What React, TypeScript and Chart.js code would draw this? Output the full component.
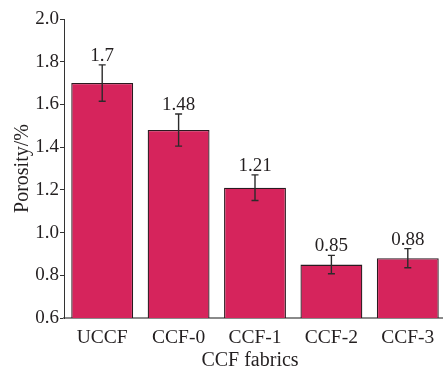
import React, { useEffect, useRef } from "react";
import { Chart, registerables } from "chart.js";

Chart.register(...registerables);

// Porosity of the CCF fabrics (%), with the standard deviation of each sample
const categories = ["UCCF", "CCF-0", "CCF-1", "CCF-2", "CCF-3"];
const porosity = [1.7, 1.48, 1.21, 0.85, 0.88];
const porosityError = [0.085, 0.075, 0.06, 0.043, 0.045];
const valueLabels = ["1.7", "1.48", "1.21", "0.85", "0.88"];
const yTicks = [0.6, 0.8, 1.0, 1.2, 1.4, 1.6, 1.8, 2.0];

const xTitle = "CCF fabrics";
const yTitle = "Porosity/%";

const FONT = '"Liberation Serif", "Times New Roman", serif';
const TEXT = "#231f20";

const errorBarPlugin = {
  id: "errorBars",
  afterDatasetsDraw(chart: any) {
    const { ctx, scales } = chart;
    const meta = chart.getDatasetMeta(0);
    const y = scales.y;
    ctx.save();
    meta.data.forEach((bar: any, i: number) => {
      const v = porosity[i];
      const e = porosityError[i];
      const x = bar.x;
      const yTop = y.getPixelForValue(v + e);
      const yBot = y.getPixelForValue(v - e);
      ctx.strokeStyle = "#2b2b2b";
      ctx.lineWidth = 1.4;
      ctx.beginPath();
      ctx.moveTo(x, yTop);
      ctx.lineTo(x, yBot);
      ctx.moveTo(x - 3.5, yTop);
      ctx.lineTo(x + 3.5, yTop);
      ctx.moveTo(x - 3.5, yBot);
      ctx.lineTo(x + 3.5, yBot);
      ctx.stroke();

      ctx.fillStyle = TEXT;
      ctx.font = `19px ${FONT}`;
      ctx.textAlign = "center";
      ctx.textBaseline = "alphabetic";
      ctx.fillText(valueLabels[i], x, yTop - 4);
    });
    ctx.restore();
  },
};

const axisTitlePlugin = {
  id: "axisTitles",
  afterDraw(chart: any) {
    const { ctx, chartArea } = chart;
    ctx.save();
    ctx.fillStyle = TEXT;
    ctx.font = `20px ${FONT}`;
    ctx.textAlign = "center";
    ctx.textBaseline = "alphabetic";
    ctx.fillText(xTitle, (chartArea.left + chartArea.right) / 2 - 5, chartArea.bottom + 48);

    ctx.translate(28, (chartArea.top + chartArea.bottom) / 2);
    ctx.rotate(-Math.PI / 2);
    ctx.fillText(yTitle, 0, 0);
    ctx.restore();
  },
};

export default function App() {
  const canvasRef = useRef<HTMLCanvasElement | null>(null);

  useEffect(() => {
    document.body.style.margin = "0";
    const canvas = canvasRef.current;
    if (!canvas) return;
    const chart = new Chart(canvas, {
      type: "bar",
      data: {
        labels: categories,
        datasets: [
          {
            data: porosity,
            backgroundColor: "#d6245c",
            borderColor: "#2a1a20",
            borderWidth: 1.3,
            barPercentage: 0.81,
            categoryPercentage: 1,
          },
        ],
      },
      options: {
        responsive: false,
        animation: false,
        devicePixelRatio: 1,
        layout: { padding: { top: 19, right: 4, left: 0, bottom: 0 } },
        plugins: {
          legend: { display: false },
          tooltip: { enabled: false },
        },
        scales: {
          x: {
            grid: { display: false, drawTicks: false },
            border: { display: true, color: "#8a8a8a", width: 2 },
            ticks: {
              color: TEXT,
              font: { family: FONT, size: 19.5 },
              padding: 8,
            },
            afterFit(scale: any) {
              scale.height = 52;
            },
          },
          y: {
            min: 0.6,
            max: 2.0,
            afterBuildTicks(scale: any) {
              scale.ticks = yTicks.map((v) => ({ value: v }));
            },
            grid: {
              display: true,
              drawOnChartArea: false,
              drawTicks: true,
              tickLength: 4,
              color: "#333333",
              lineWidth: 1,
            },
            border: { display: true, color: "#333333", width: 1 },
            ticks: {
              color: TEXT,
              font: { family: FONT, size: 19 },
              padding: 1,
              callback: (v: any) => Number(v).toFixed(1),
            },
            afterFit(scale: any) {
              scale.width = 64;
            },
          },
        },
      },
      plugins: [errorBarPlugin, axisTitlePlugin],
    });
    return () => chart.destroy();
  }, []);

  return (
    <div style={{ position: "relative", width: 443, height: 370, overflow: "hidden", background: "#fff" }}>
      <canvas ref={canvasRef} width={450} height={370} style={{ width: 450, height: 370, display: "block" }} />
    </div>
  );
}
